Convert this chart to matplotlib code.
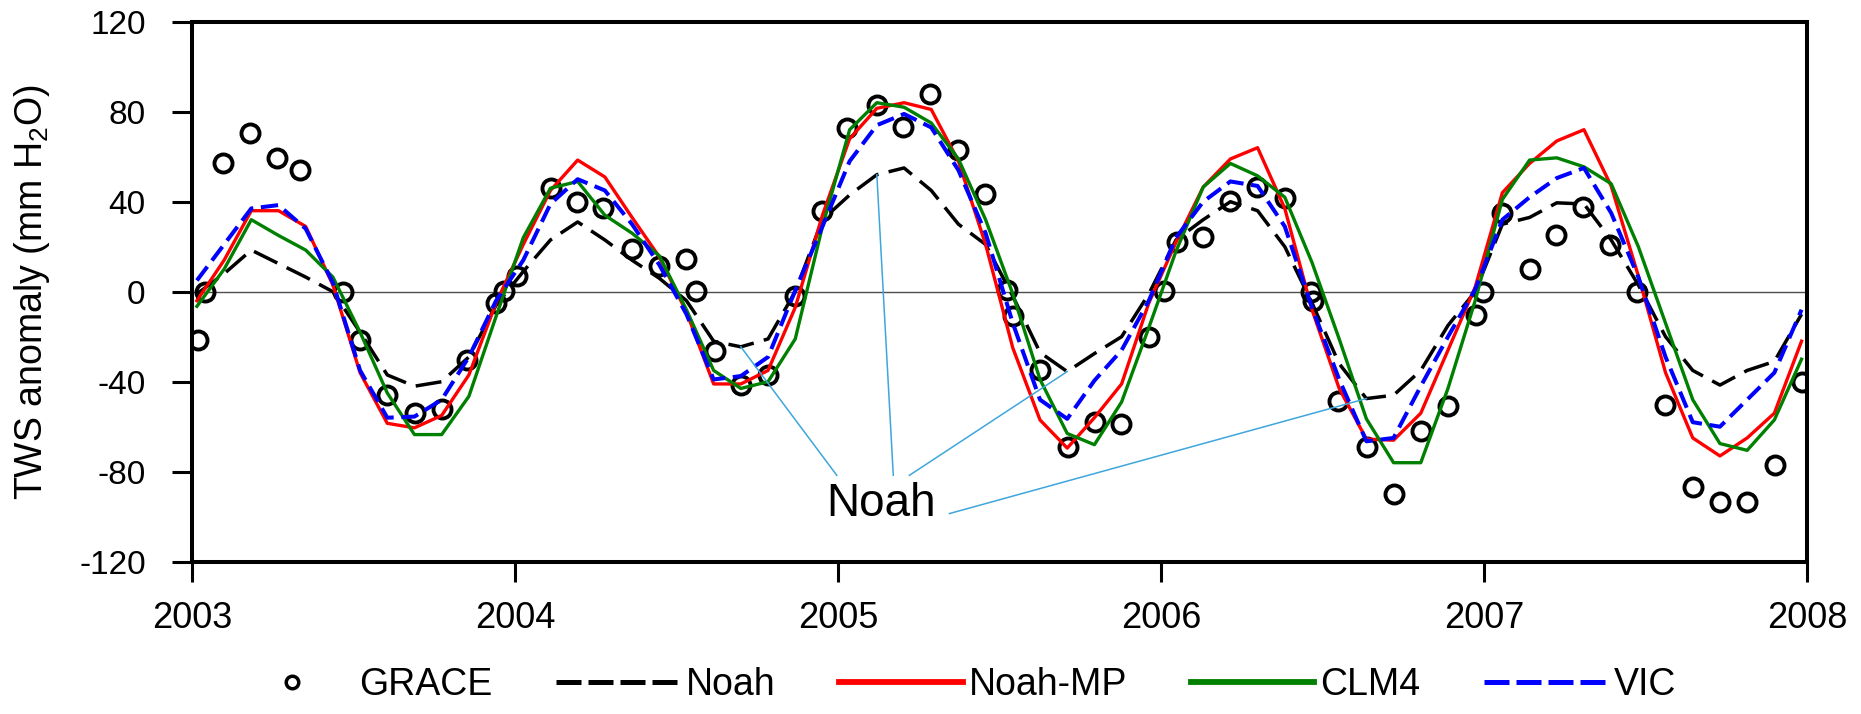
import matplotlib
matplotlib.use('Agg')
import matplotlib.pyplot as plt
from matplotlib.lines import Line2D
import numpy as np

plt.rcParams['font.family'] = ['Liberation Sans', 'DejaVu Sans']
plt.rcParams['axes.unicode_minus'] = False
plt.rcParams['mathtext.default'] = 'regular'

# monthly model output, Jan 2003 - Dec 2007
months = np.linspace(2003.015, 2007.983, 60)

noah = [-1, 8, 18.5, 12.5, 6.5, 0, -18, -37, -42, -40, -29, -6,
        9, 23, 31, 23, 14, 6, -4, -22, -24.5, -21, 0, 32,
        43, 52, 55, 45, 30, 21, -2, -27, -35.5, -27.5, -20, -1,
        23, 32, 40, 36, 20, -5, -32, -47.5, -46, -35, -15, 0,
        30, 33, 39.5, 39, 23, 3, -20, -35, -41.5, -35, -31, -10]

noah_mp = [-4, 14, 36, 36, 29, 3, -36, -58.5, -60.5, -55, -37, -5,
           21, 45, 58.5, 51, 33, 15.5, -9, -41, -41, -35, -7, 34,
           68, 81.5, 84, 81, 58, 21, -25, -57, -69.5, -56, -41, -5,
           22, 46.5, 59, 64, 37, -8, -43, -65.5, -66, -54, -26, 2,
           44, 57, 67, 72, 47, 7, -36, -65, -73, -65, -54, -22]

clm4 = [-6.5, 10, 32, 25, 18.5, 6.5, -18, -45, -63.5, -63.5, -46.5, -11,
        24, 46, 49, 34, 26, 16, -8, -35, -43, -40, -21, 29,
        72, 84, 82, 75, 59, 32, -1, -39, -63, -68, -49, -16,
        18, 46.5, 57, 51.5, 42, 13, -21, -56.5, -76, -76, -43, -4,
        41, 58.5, 59.5, 55.5, 48, 20, -14, -48, -67.5, -70.5, -57, -30]

vic = [5, 21, 37, 38.5, 28, 4, -35, -56, -55.5, -48, -29, -4,
       14, 39, 50, 45, 30, 12, -10, -39, -37.5, -29, 0.5, 29,
       58, 74, 79, 73, 54, 26, -14, -48, -56.5, -39.5, -26, -4,
       24, 40, 49, 47, 29, -7, -39, -66.5, -65, -42, -20, 1,
       32, 42, 50.5, 55, 35, 6.5, -29, -58, -60, -48, -36, -8]

grace_time = [2003.018, 2003.040, 2003.097, 2003.180, 2003.263, 2003.334, 2003.468,
              2003.520, 2003.603, 2003.689, 2003.773, 2003.850, 2003.940, 2003.966,
              2004.005, 2004.111, 2004.191, 2004.273, 2004.361, 2004.446, 2004.529,
              2004.560, 2004.619, 2004.700, 2004.784, 2004.868, 2004.950, 2005.028,
              2005.120, 2005.202, 2005.286, 2005.372, 2005.455, 2005.522, 2005.543,
              2005.625, 2005.711, 2005.795, 2005.877, 2005.963, 2006.009, 2006.049,
              2006.131, 2006.214, 2006.296, 2006.384, 2006.464, 2006.472, 2006.549,
              2006.637, 2006.720, 2006.804, 2006.889, 2006.975, 2006.998, 2007.055,
              2007.142, 2007.223, 2007.307, 2007.390, 2007.473, 2007.560, 2007.648,
              2007.731, 2007.813, 2007.901, 2007.984]
grace_tws = [-21.5, 0, 57, 70.4, 59.3, 54, 0,
             -21.6, -45.8, -54, -52.2, -30.4, -4.9, 0.5,
             7.2, 46, 40, 37.4, 19.1, 11.5, 14.5,
             0.5, -26.5, -41.3, -37, -2, 36, 72.9,
             83, 73.3, 87.7, 63.2, 43.3, 0.8, -11,
             -34.6, -69, -58, -58.8, -20, 0.5, 22,
             24.2, 40.2, 46.4, 41.8, 0, -4, -48.7,
             -69, -90, -62, -51, -10.4, 0, 35,
             10.3, 25, 37.7, 20.6, 0, -50.2, -87,
             -93.5, -93.5, -77, -40]

year_ticks = [2003, 2004, 2005, 2006, 2007, 2008]
tws_ticks = [-120, -80, -40, 0, 40, 80, 120]

# months on the Noah curve that the callout points at
callout_idx = [20, 25, 32, 43]

fig = plt.figure(figsize=(18.61, 7.14), dpi=100)
ax = fig.add_axes([0.1032, 0.2133, 0.8678, 0.7563])

ax.axhline(0, color='0.3', lw=1.0, zorder=1)

ax.plot(grace_time, grace_tws, ls='none', marker='o', ms=13, mfc='none',
        mec='black', mew=2.8, zorder=2)
ax.plot(months, noah, color='black', lw=2.5, dashes=(7.5, 3.0), zorder=3)
ax.plot(months, noah_mp, color='red', lw=2.4, zorder=3)
ax.plot(months, clm4, color='green', lw=2.4, zorder=3)
ax.plot(months, vic, color='blue', lw=2.9, dashes=(4.3, 1.9), zorder=4)

# "Noah" callout
ax.text(2005.133, -94.5, 'Noah', fontsize=33, ha='center', va='center')
starts = [(2004.996, -81.6), (2005.171, -81.6), (2005.221, -81.6), (2005.345, -98.6)]
for (sx, sy), i in zip(starts, callout_idx):
    ax.plot([sx, months[i]], [sy, noah[i]], color='#3ea6dd', lw=1.1, zorder=5)

ax.set_xlim(2003, 2008)
ax.set_ylim(-120, 120)
ax.set_xticks(year_ticks)
ax.set_xticklabels([str(y) for y in year_ticks])
ax.set_yticks(tws_ticks)
ax.set_yticklabels([str(v) for v in tws_ticks])

for s in ax.spines.values():
    s.set_linewidth(2.9)
ax.tick_params(axis='both', direction='out', length=14.4, width=2.2)
ax.tick_params(axis='y', labelsize=24, pad=19)
ax.tick_params(axis='x', labelsize=26, pad=14)

ax.set_ylabel('TWS anomaly (mm H$_2$O)', fontsize=27)
ax.yaxis.set_label_coords(-0.087, 0.5)

handles = [
    Line2D([], [], ls='none', marker='o', ms=9, mfc='none', mec='black', mew=2.5),
    Line2D([], [], color='black', lw=3.6, dashes=(5, 1.4)),
    Line2D([], [], color='red', lw=4.2),
    Line2D([], [], color='green', lw=4.2),
    Line2D([], [], color='blue', lw=3.6, dashes=(5, 1.4)),
]
labels = ['GRACE', 'Noah', 'Noah-MP', 'CLM4', 'VIC']
fig.legend(handles, labels, loc='center', bbox_to_anchor=(0.512, 0.0406), ncol=5,
           frameon=False, fontsize=27, handlelength=3.3, handletextpad=0.15,
           columnspacing=1.7, borderpad=0)

fig.savefig('out.png', dpi=100)
